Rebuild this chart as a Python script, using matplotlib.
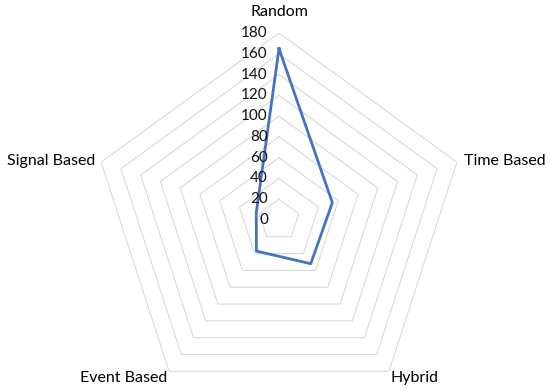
import numpy as np
import matplotlib.pyplot as plt

plt.rcParams['font.family'] = ['Lato', 'DejaVu Sans']

categories = ['Random', 'Time Based', 'Hybrid', 'Event Based', 'Signal Based']
values = [165, 54, 52, 37, 23]
ring_values = [20, 40, 60, 80, 100, 120, 140, 160, 180]
tick_labels = ['0', '20', '40', '60', '80', '100', '120', '140', '160', '180']

angles = np.linspace(0, 2 * np.pi, len(categories), endpoint=False)
closed = np.append(angles, angles[0])

fig = plt.figure(figsize=(5.5, 3.9), dpi=100)
ax = fig.add_axes([92 / 550, -17 / 390, 374 / 550, 374 / 390], projection='polar')
ax.set_theta_offset(np.pi / 2)
ax.set_theta_direction(-1)
ax.set_ylim(0, 180)
ax.grid(False)
ax.set_xticks([])
ax.set_yticks([])
ax.spines['polar'].set_visible(False)
ax.patch.set_visible(False)

# pentagon grid
for r in ring_values:
    ax.plot(closed, [r] * len(closed), color='#d9d9d9', lw=0.8, zorder=1)

# data line
ax.plot(closed, values + values[:1], color='#4472c4', lw=2, zorder=3)

# radial tick labels along the top axis
for i, lab in enumerate(tick_labels):
    ax.annotate(lab, (0, i * 20), xytext=(-8, 0), textcoords='offset points',
                ha='right', va='center', fontsize=11, color='#111111')

# category labels
offsets = [((0, 15), 'center', 'center'),
           ((5, 1), 'left', 'center'),
           ((1, -5), 'left', 'center'),
           ((-1, -5), 'right', 'center'),
           ((-4, 1), 'right', 'center')]
for ang, name, (off, ha, va) in zip(angles, categories, offsets):
    ax.annotate(name, (ang, 180), xytext=off, textcoords='offset points',
                ha=ha, va=va, fontsize=11.5, color='#000000', annotation_clip=False)

fig.savefig('out.png', dpi=100)
